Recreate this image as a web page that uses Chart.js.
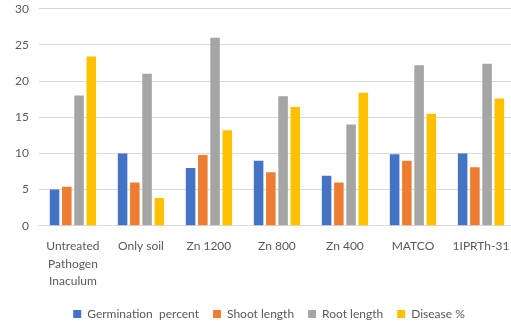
<!DOCTYPE html>
<html>
<head>
<meta charset="utf-8">
<script src="https://cdn.jsdelivr.net/npm/chart.js@4/dist/chart.umd.min.js"></script>
<style>
  html, body { margin: 0; padding: 0; background: #fff; overflow: hidden; }
  #wrap { width: 540px; height: 340px; margin-top: -10px; }
</style>
</head>
<body>
<div id="wrap"><canvas id="chart" width="540" height="340"></canvas></div>
<script>
// categories and series
const categories = [['Untreated', 'Pathogen', 'Inaculum'], 'Only soil', 'Zn 1200', 'Zn 800', 'Zn 400', 'MATCO', '1IPRTh-31'];
const germination = [5, 10, 8, 9, 6.9, 9.9, 10];
const shootLength = [5.4, 6, 9.8, 7.4, 6, 9, 8.1];
const rootLength = [18, 21, 26, 17.9, 14, 22.2, 22.4];
const disease = [23.4, 3.85, 13.2, 16.4, 18.4, 15.5, 17.6];
const yTicks = [0, 5, 10, 15, 20, 25, 30];

const font = { family: 'Lato, "Open Sans", sans-serif', size: 12, lineHeight: 1.45 };

function series(label, data, color) {
  return {
    label: label,
    data: data,
    backgroundColor: color,
    barPercentage: 0.78,
    categoryPercentage: 0.72
  };
}

// nudge the legend a bit to the right, like the original
const shiftLegend = {
  id: 'shiftLegend',
  afterLayout(chart) {
    chart.legend.left += 9;
    chart.legend.right += 9;
  }
};

const ctx = document.getElementById('chart');
const chart = new Chart(ctx, {
  type: 'bar',
  data: {
    labels: categories,
    datasets: [
      series('Germination  percent', germination, '#4472C4'),
      series('Shoot length', shootLength, '#ED7D31'),
      series('Root length', rootLength, '#A5A5A5'),
      series('Disease %', disease, '#FFC000')
    ]
  },
  plugins: [shiftLegend],
  options: {
    responsive: false,
    animation: false,
    layout: { padding: { top: 4, left: 5, right: 25, bottom: 0 } },
    plugins: {
      tooltip: { enabled: false },
      legend: {
        position: 'bottom',
        labels: {
          boxWidth: 8,
          boxHeight: 8,
          padding: 14,
          color: '#595959',
          font: { family: font.family, size: 12 }
        }
      }
    },
    scales: {
      y: {
        min: 0,
        max: 30,
        afterBuildTicks: (axis) => { axis.ticks = yTicks.map(v => ({ value: v })); },
        grid: { color: '#d9d9d9', drawTicks: false },
        border: { display: false },
        ticks: { color: '#595959', font: font, padding: 10 }
      },
      x: {
        grid: { display: false },
        border: { color: '#d9d9d9' },
        ticks: { color: '#595959', font: font, padding: 4, maxRotation: 0, autoSkip: false }
      }
    }
  }
});
</script>
</body>
</html>
